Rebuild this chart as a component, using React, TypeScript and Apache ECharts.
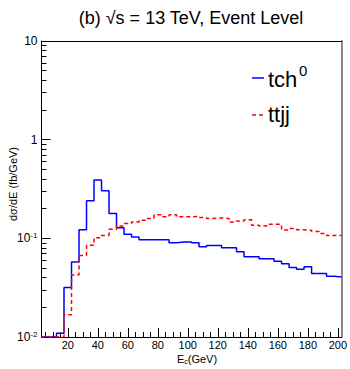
import React, { useEffect, useRef } from "react";
import * as echarts from "echarts";

// bin centres (GeV), 5 GeV wide bins
const binCenters = [5, 10, 15, 20, 25, 30, 35, 40, 45, 50, 55, 60, 65, 70, 75, 80, 85, 90, 95, 100,
  105, 110, 115, 120, 125, 130, 135, 140, 145, 150, 155, 160, 165, 170, 175, 180, 185, 190, 195, 200];

const tch0 = [0.01, 0.01, 0.0109, 0.0317, 0.0574, 0.122, 0.24, 0.391, 0.304, 0.179,
  0.128, 0.11, 0.103, 0.097, 0.097, 0.097, 0.0965, 0.0903, 0.0916, 0.0916,
  0.09, 0.0823, 0.0845, 0.0845, 0.0804, 0.0804, 0.0732, 0.0651, 0.0651, 0.0621,
  0.0621, 0.0587, 0.0552, 0.0506, 0.0486, 0.0514, 0.0439, 0.0439, 0.0412, 0.0406];

const ttjj = [0.01, 0.01, 0.01, 0.0168, 0.0426, 0.0671, 0.0849, 0.1016, 0.107, 0.1236,
  0.1335, 0.141, 0.1466, 0.1527, 0.159, 0.173, 0.165, 0.173, 0.165, 0.165,
  0.1665, 0.1626, 0.159, 0.161, 0.159, 0.1466, 0.15, 0.154, 0.1358, 0.1335,
  0.139, 0.139, 0.1217, 0.1256, 0.1225, 0.1205, 0.117, 0.1117, 0.1066, 0.1066];

const xMajorTicks = [20, 40, 60, 80, 100, 120, 140, 160, 180, 200];
const xMinorTicks = [5, 10, 15, 25, 30, 35, 45, 50, 55, 65, 70, 75, 85, 90, 95, 105, 110, 115,
  125, 130, 135, 145, 150, 155, 165, 170, 175, 185, 190, 195];
const yDecades = [-2, -1, 0];
const yMinorMultipliers = [2, 3, 4, 5, 6, 7, 8, 9];

const FONT = "Liberation Sans, Arial, Helvetica, sans-serif";
const BIN_HALF = 2.5;

function histPoints(values: number[]) {
  const pts: number[][] = values.map((v, i) => [binCenters[i] - BIN_HALF, v]);
  const last = values.length - 1;
  pts.push([binCenters[last] + BIN_HALF, values[last]]);
  return pts;
}

export default function App() {
  const ref = useRef<HTMLDivElement>(null);
  useEffect(() => {
    if (!ref.current) return;
    const chart = echarts.init(ref.current, undefined, { renderer: "svg" });
    const minorY: number[] = [];
    yDecades.forEach((d) => yMinorMultipliers.forEach((m) => minorY.push(d + Math.log10(m))));
    const xMin = binCenters[0] - BIN_HALF;
    const xMax = binCenters[binCenters.length - 1] + BIN_HALF;
    chart.setOption({
      animation: false,
      grid: { left: 41.5, right: 6, top: 41, bottom: 32, containLabel: false },
      xAxis: [
        {
          type: "value", min: xMin, max: xMax, position: "bottom",
          axisLine: { show: true, onZero: false, lineStyle: { color: "#000", width: 1 } },
          axisTick: { show: true, inside: true, length: 9, customValues: xMajorTicks, lineStyle: { color: "#000" } },
          axisLabel: { customValues: xMajorTicks, color: "#000", fontSize: 11, fontFamily: FONT, margin: 2 },
          splitLine: { show: false },
        },
        {
          type: "value", min: xMin, max: xMax, position: "bottom",
          axisLine: { show: false, onZero: false },
          axisTick: { show: true, inside: true, length: 5, customValues: xMinorTicks, lineStyle: { color: "#000" } },
          axisLabel: { show: false },
          splitLine: { show: false },
        },
        {
          type: "value", min: 0, max: 1, position: "top",
          axisLine: { show: true, onZero: false, lineStyle: { color: "#000", width: 1 } },
          axisTick: { show: false }, axisLabel: { show: false }, splitLine: { show: false },
        },
      ],
      yAxis: [
        {
          type: "log", logBase: 10, min: 0.01, max: 10, position: "left",
          axisLine: { show: true, onZero: false, lineStyle: { color: "#000", width: 1 } },
          axisTick: { show: true, inside: true, length: 9, lineStyle: { color: "#000" } },
          axisLabel: {
            color: "#000", fontSize: 12, fontFamily: FONT, margin: 4,
            formatter: (v: number) => {
              const e = Math.round(Math.log10(v));
              if (e === 0) return "1";
              if (e === 1) return "10";
              return "10{s|" + e + "}";
            },
            rich: {
              s: { fontSize: 8, fontFamily: FONT, color: "#000", verticalAlign: "top", padding: [0, 0, 6, 0] },
            },
          },
          splitLine: { show: false },
        },
        {
          type: "value", min: -2, max: 1, position: "left",
          axisLine: { show: false, onZero: false },
          axisTick: { show: true, inside: true, length: 5, customValues: minorY, lineStyle: { color: "#000" } },
          axisLabel: { show: false }, splitLine: { show: false },
        },
        {
          type: "value", min: 0, max: 1, position: "right",
          axisLine: { show: true, onZero: false, lineStyle: { color: "#888", width: 2 } },
          axisTick: { show: false }, axisLabel: { show: false }, splitLine: { show: false },
        },
      ],
      series: [
        {
          name: "tch0", type: "line", step: "end", xAxisIndex: 0, yAxisIndex: 0,
          data: histPoints(tch0), symbol: "none", clip: true,
          lineStyle: { color: "#0000ff", width: 1.5 },
        },
        {
          name: "ttjj", type: "line", step: "end", xAxisIndex: 0, yAxisIndex: 0,
          data: histPoints(ttjj), symbol: "none", clip: true,
          lineStyle: { color: "#ff0000", width: 1.5, type: [4, 3] },
        },
      ],
      graphic: [
        {
          type: "text", x: 191, y: 18,
          style: { text: "(b) √s = 13 TeV, Event Level", fontSize: 18, fontFamily: FONT, fill: "#000", align: "center", verticalAlign: "middle" },
        },
        {
          type: "text", x: 13, y: 184, rotation: Math.PI / 2,
          style: { text: "dσ/dE (fb/GeV)", fontSize: 11, fontFamily: FONT, fill: "#000", align: "center", verticalAlign: "middle" },
        },
        {
          type: "text", x: 197, y: 359,
          style: {
            text: "E{sub|c}(GeV)", fontSize: 11, fontFamily: FONT, fill: "#000", align: "center", verticalAlign: "middle",
            rich: { sub: { fontSize: 7, fontFamily: FONT, fill: "#000", verticalAlign: "bottom", padding: [5, 0, 0, 0] } },
          },
        },
        { type: "line", shape: { x1: 252, y1: 78, x2: 264, y2: 78 }, style: { stroke: "#0000ff", lineWidth: 1.5 } },
        { type: "line", shape: { x1: 252, y1: 115, x2: 263, y2: 115 }, style: { stroke: "#ff0000", lineWidth: 1.5, lineDash: [4, 3] } },
        {
          type: "text", x: 268, y: 79,
          style: { text: "tch", fontSize: 22, fontFamily: FONT, fill: "#000", align: "left", verticalAlign: "middle" },
        },
        {
          type: "text", x: 299, y: 70,
          style: { text: "0", fontSize: 15, fontFamily: FONT, fill: "#000", align: "left", verticalAlign: "middle" },
        },
        {
          type: "text", x: 268, y: 114,
          style: { text: "ttjj", fontSize: 22, fontFamily: FONT, fill: "#000", align: "left", verticalAlign: "middle" },
        },
      ],
    });
    return () => chart.dispose();
  }, []);
  return <div ref={ref} style={{ position: "absolute", left: 0, top: 0, width: 350, height: 369 }} />;
}
